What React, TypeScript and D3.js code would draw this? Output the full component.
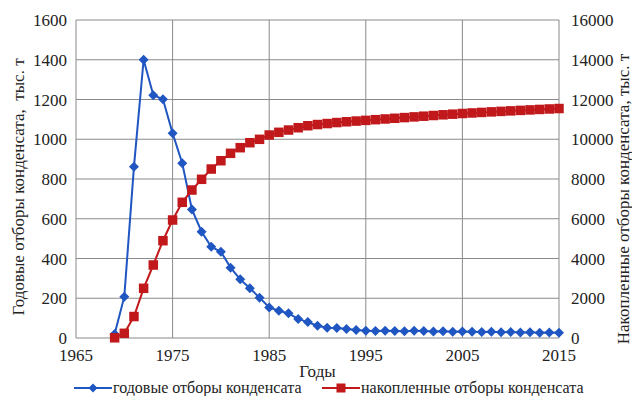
import React from "react";
import * as d3 from "d3";

const years: number[] = d3.range(1969, 2016);
const annual: number[] = [
  20, 208, 862, 1400, 1222, 1201, 1030, 879, 647, 535, 459, 434, 354, 295, 250, 203,
  154, 137, 124, 96, 80, 62, 52, 50, 45, 40, 37, 35, 36, 35, 34, 36, 35, 33, 34, 32,
  33, 32, 30, 31, 29, 30, 28, 29, 27, 28, 26,
];
const cumulative: number[] = [
  10, 236, 1080, 2500, 3673, 4895, 5937, 6827, 7446, 7985, 8502, 8920, 9292, 9575, 9826, 9997,
  10213, 10349, 10464, 10580, 10680, 10740, 10790, 10840, 10880, 10915, 10950, 10985, 11020, 11055, 11090, 11125,
  11160, 11195, 11230, 11262, 11295, 11323, 11350, 11377, 11402, 11428, 11452, 11476, 11500, 11523, 11546,
];
const xTicks: number[] = [1965, 1975, 1985, 1995, 2005, 2015];
const leftTicks: number[] = [0, 200, 400, 600, 800, 1000, 1200, 1400, 1600];
const rightTicks: number[] = [0, 2000, 4000, 6000, 8000, 10000, 12000, 14000, 16000];
const seriesNames: string[] = ["годовые отборы конденсата", "накопленные отборы конденсата"];
const leftTitle = "Годовые отборы конденсата,\u00a0 тыс. т";
const rightTitle = "Накопленные отборы конденсата, тыс. т";
const xTitle = "Годы";

const BLUE = "#1f56c2";
const RED = "#c0181b";
const GRID = "#8a8a8a";
const CSS = `text.serif { font-family: "Liberation Serif", "Times New Roman", Tinos, serif !important; }`;

export default function App() {
  const W = 632, H = 396;
  const L = 76, R = 559, T = 20, B = 338;
  const x = d3.scaleLinear().domain([1965, 2015]).range([L, R]);
  const yL = d3.scaleLinear().domain([0, 1600]).range([B, T]);
  const yR = d3.scaleLinear().domain([0, 16000]).range([B, T]);
  const lineL = d3.line<number>().x((_, i) => x(years[i])).y((d) => yL(d));
  const lineR = d3.line<number>().x((_, i) => x(years[i])).y((d) => yR(d));
  const diamond = (cx: number, cy: number, r: number) =>
    `M${cx},${cy - r}L${cx + r},${cy}L${cx},${cy + r}L${cx - r},${cy}Z`;
  const sq = 9.5;
  const tp = (extra: any) => ({ className: "serif", fill: "#222", style: { fontFamily: '"Liberation Serif"' }, ...extra });

  return (
    <svg width={W} height={H} fontFamily="Liberation Serif" style={{ position: "absolute", left: 0, top: 0, background: "#fff" }}>
      <style>{CSS}</style>
      <rect x={0} y={0} width={W} height={H} fill="#fff" />
      {leftTicks.map((t) => (
        <line key={"h" + t} x1={L} x2={R} y1={yL(t)} y2={yL(t)} stroke={GRID} strokeWidth={1} />
      ))}
      {xTicks.map((t) => (
        <line key={"v" + t} x1={x(t)} x2={x(t)} y1={T} y2={B} stroke={GRID} strokeWidth={1} />
      ))}
      {leftTicks.map((t) => (
        <text key={"lt" + t} {...tp({ x: 67, y: yL(t) + 6, textAnchor: "end", fontSize: 17 })}>{t}</text>
      ))}
      {rightTicks.map((t) => (
        <text key={"rt" + t} {...tp({ x: 571, y: yR(t) + 6, textAnchor: "start", fontSize: 17 })}>{t}</text>
      ))}
      {xTicks.map((t) => (
        <text key={"xt" + t} {...tp({ x: x(t), y: 361, textAnchor: "middle", fontSize: 17 })}>{t}</text>
      ))}
      <text {...tp({ x: (L + R) / 2, y: 377, textAnchor: "middle", fontSize: 17 })}>{xTitle}</text>
      <text {...tp({ transform: `translate(24,${(T + B) / 2 + 8}) rotate(-90)`, textAnchor: "middle", fontSize: 17 })}>{leftTitle}</text>
      <text {...tp({ transform: `translate(629,${(T + B) / 2 + 20}) rotate(-90)`, textAnchor: "middle", fontSize: 17 })}>{rightTitle}</text>

      <path d={lineL(annual) || ""} fill="none" stroke={BLUE} strokeWidth={2} />
      {annual.map((v, i) => (
        <path key={"d" + i} d={diamond(x(years[i]), yL(v), 5)} fill={BLUE} />
      ))}
      <path d={lineR(cumulative) || ""} fill="none" stroke={RED} strokeWidth={2} />
      {cumulative.map((v, i) => (
        <rect key={"s" + i} x={x(years[i]) - sq / 2} y={yR(v) - sq / 2} width={sq} height={sq} fill={RED} />
      ))}

      <g>
        <line x1={74} x2={112} y1={388} y2={388} stroke={BLUE} strokeWidth={2} />
        <path d={diamond(93, 388, 4.5)} fill={BLUE} />
        <text {...tp({ x: 113, y: 393, fontSize: 16 })}>{seriesNames[0]}</text>
        <line x1={322} x2={360} y1={388} y2={388} stroke={RED} strokeWidth={2} />
        <rect x={336.5} y={383.5} width={9} height={9} fill={RED} />
        <text {...tp({ x: 361, y: 393, fontSize: 16 })}>{seriesNames[1]}</text>
      </g>
    </svg>
  );
}
